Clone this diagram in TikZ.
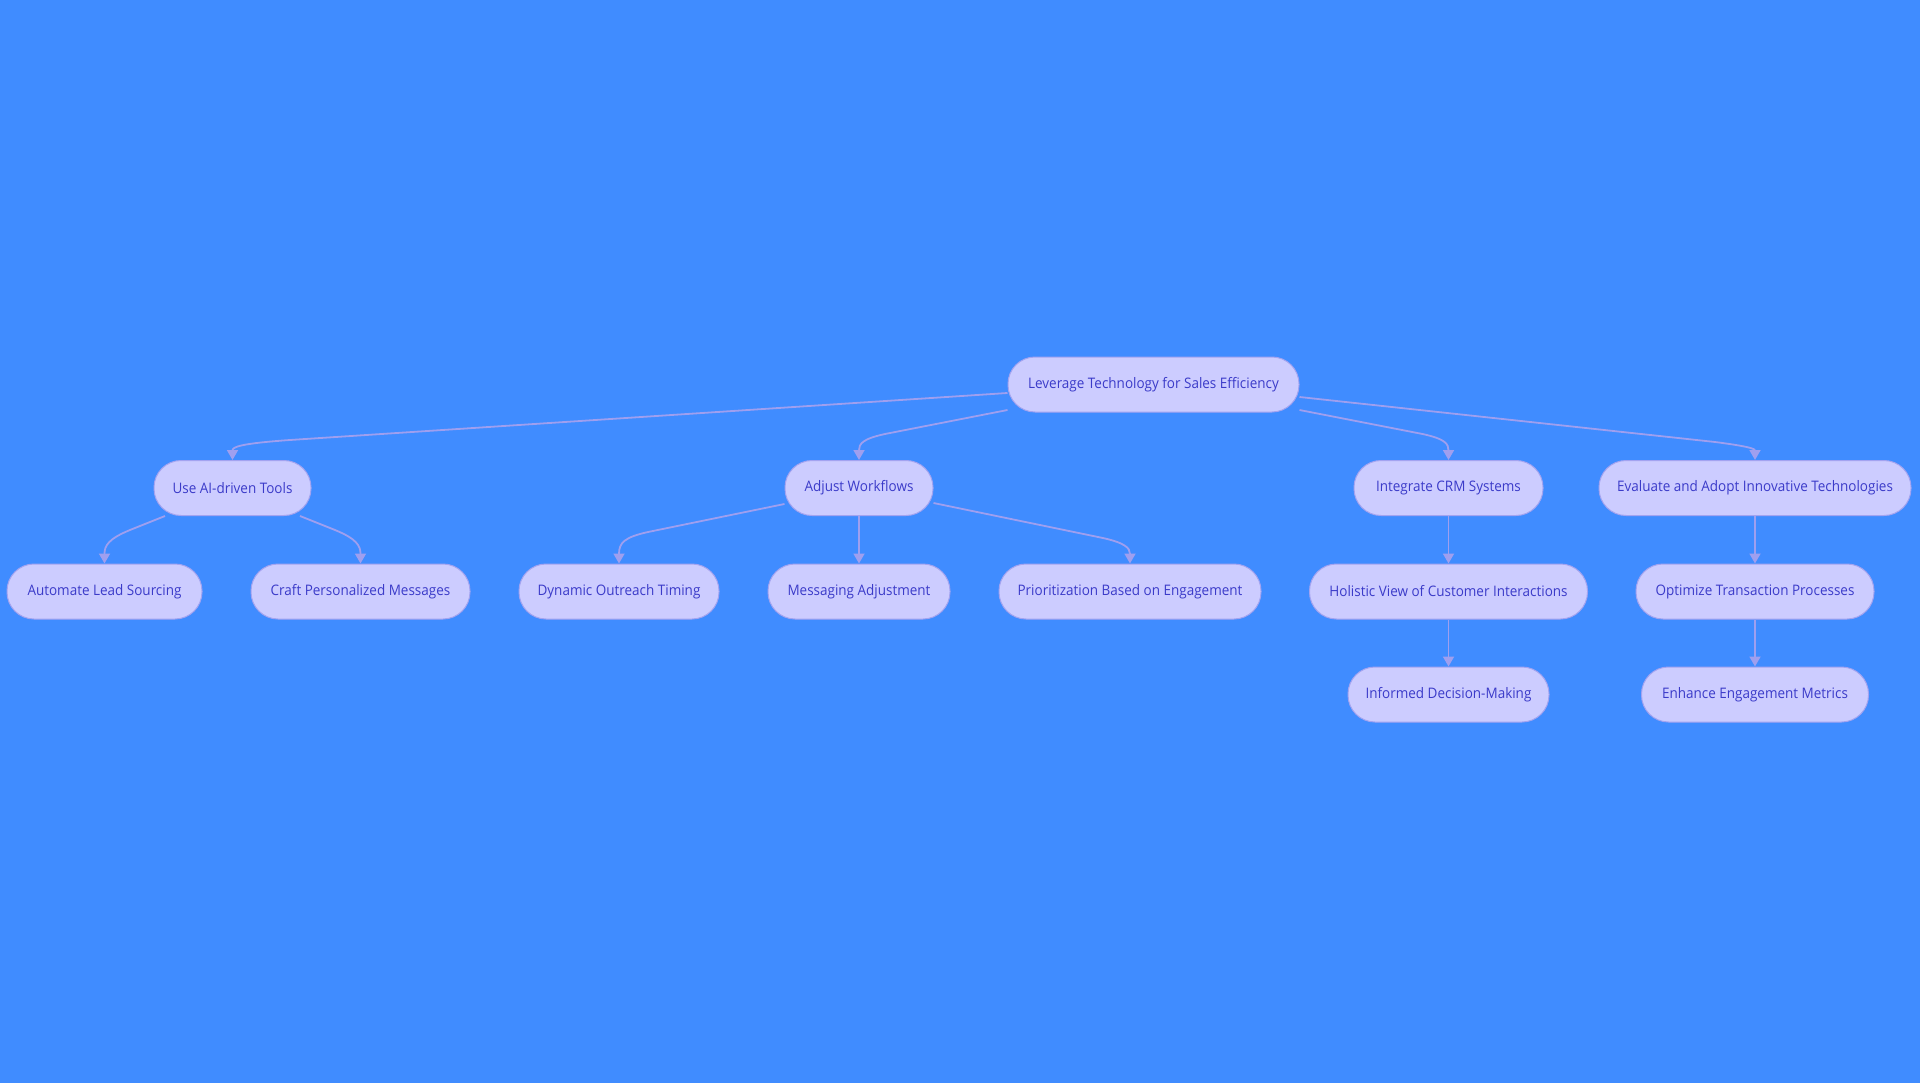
\documentclass[tikz,border=0pt]{standalone}
\usepackage{fontspec}
\setmainfont{Open Sans}[FakeStretch=0.93]
\usetikzlibrary{arrows.meta}
\definecolor{bgblue}{HTML}{408CFF}
\definecolor{nodefill}{HTML}{CCCCFF}
\definecolor{nodeborder}{HTML}{A3A3F0}
\definecolor{nodetext}{HTML}{3B3BC9}
\definecolor{edgecol}{HTML}{9F9FEF}
\tikzset{
  pill/.style={draw=nodeborder, fill=nodefill, line width=1pt, rounded corners=27pt,
    minimum height=55pt, inner sep=0pt, text=nodetext,
    font=\fontsize{14.5pt}{17pt}\selectfont, align=center},
  link/.style={draw=edgecol, line width=1.8pt, -{Triangle[length=10pt,width=11pt]}}
}
\begin{document}
\begin{tikzpicture}[x=1pt,y=-1pt]
\useasboundingbox (0,0) rectangle (1920,1083);
\fill[bgblue] (0,0) rectangle (1920,1083);

\node[pill, minimum width=291pt] (root) at (1153.5,384.5) {Leverage Technology for Sales Efficiency};

\node[pill, minimum width=157pt] (useai) at (232.5,488) {Use AI-driven Tools};
\node[pill, minimum width=148pt] (adjust) at (859,488) {Adjust Workflows};
\node[pill, minimum width=189pt] (crm) at (1448.5,488) {Integrate CRM Systems};
\node[pill, minimum width=312pt] (eval) at (1755,488) {Evaluate and Adopt Innovative Technologies};

\node[pill, minimum width=195pt] (auto) at (104.5,591.5) {Automate Lead Sourcing};
\node[pill, minimum width=219pt] (craft) at (360.5,591.5) {Craft Personalized Messages};
\node[pill, minimum width=200pt] (dyn) at (619,591.5) {Dynamic Outreach Timing};
\node[pill, minimum width=182pt] (msg) at (859,591.5) {Messaging Adjustment};
\node[pill, minimum width=262pt] (prio) at (1130,591.5) {Prioritization Based on Engagement};
\node[pill, minimum width=278pt] (holi) at (1448.5,591.5) {Holistic View of Customer Interactions};
\node[pill, minimum width=238pt] (opt) at (1755,591.5) {Optimize Transaction Processes};

\node[pill, minimum width=201pt] (inf) at (1448.5,694.5) {Informed Decision-Making};
\node[pill, minimum width=227pt] (enh) at (1755,694.5) {Enhance Engagement Metrics};

% root edges
\draw[link] ([yshift=-8.5pt]root.west) -- (290,440) .. controls (240,443.5) and (232.5,447) .. (useai.north);
\draw[link] ([yshift=-25.5pt]root.west) -- (885,434) .. controls (862,439) and (859,444) .. (adjust.north);
\draw[link] ([yshift=-25.5pt]root.east) -- (1422.5,434) .. controls (1445.5,439) and (1448.5,444) .. (crm.north);
\draw[link] ([yshift=-12.5pt]root.east) -- (1715,442) .. controls (1750,446.5) and (1755,449) .. (eval.north);

% level 2 edges
\draw[link] ([xshift=-67.5pt]useai.south) -- (130,530) .. controls (108,539) and (104.5,546) .. (auto.north);
\draw[link] ([xshift=67.5pt]useai.south) -- (335,530) .. controls (357,539) and (360.5,546) .. (craft.north);
\draw[link] ([yshift=-16pt]adjust.west) -- (650,531.6) .. controls (624,537) and (619,543) .. (dyn.north);
\draw[link] (adjust.south) -- (msg.north);
\draw[link] ([yshift=-15pt]adjust.east) -- (1100,537.4) .. controls (1125,542.5) and (1130,548) .. (prio.north);
\draw[link] (crm.south) -- (holi.north);
\draw[link] (eval.south) -- (opt.north);

% level 3 edges
\draw[link] (holi.south) -- (inf.north);
\draw[link] (opt.south) -- (enh.north);
\end{tikzpicture}
\end{document}
